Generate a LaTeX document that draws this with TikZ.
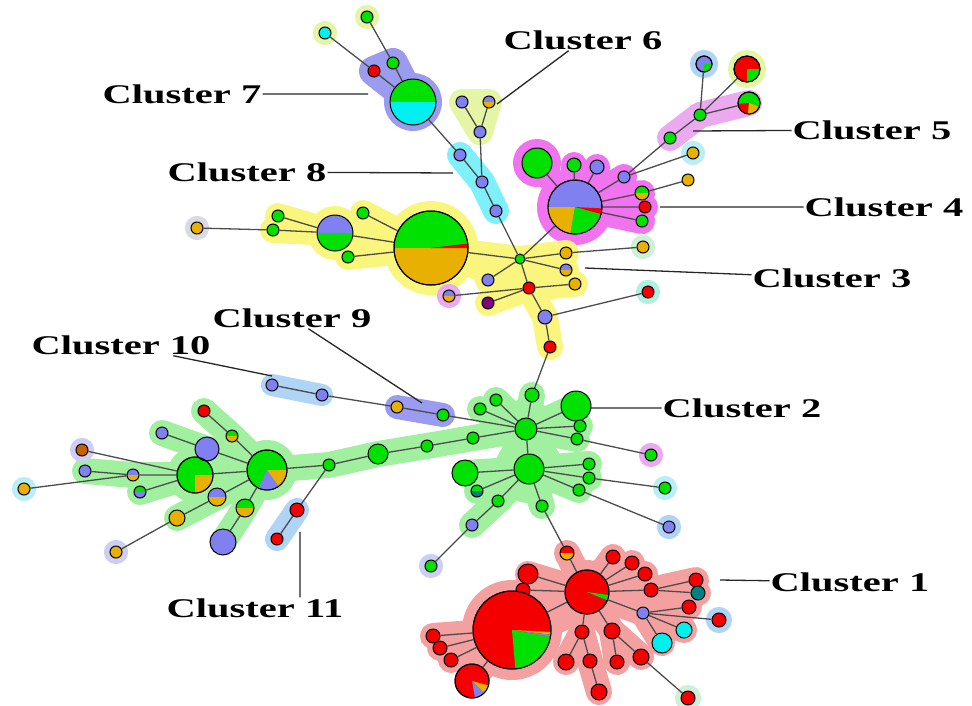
\documentclass[tikz,border=0pt]{standalone}
\usepackage{fontspec}
\setmainfont{Liberation Serif}
\usetikzlibrary{backgrounds}

\definecolor{gr}{RGB}{0,225,0}
\definecolor{rd}{RGB}{245,0,0}
\definecolor{bl}{RGB}{128,128,240}
\definecolor{og}{RGB}{232,176,0}
\definecolor{cy}{RGB}{0,240,240}
\definecolor{tl}{RGB}{0,128,128}
\definecolor{pu}{RGB}{128,0,128}
\definecolor{br}{RGB}{200,96,0}
\definecolor{hyel}{RGB}{250,245,125}
\definecolor{hgrn}{RGB}{160,240,160}
\definecolor{hred}{RGB}{245,160,160}
\definecolor{hmag}{RGB}{240,115,240}
\definecolor{hpnk}{RGB}{235,170,240}
\definecolor{hvio}{RGB}{155,155,240}
\definecolor{hcyn}{RGB}{125,240,250}
\definecolor{hlim}{RGB}{228,245,165}
\definecolor{hsky}{RGB}{175,212,245}
\definecolor{hgry}{RGB}{218,218,228}
\definecolor{hlgr}{RGB}{205,240,215}
\definecolor{hmnt}{RGB}{175,240,225}
\definecolor{hlav}{RGB}{205,205,245}
\definecolor{hcyl}{RGB}{185,238,248}

\tikzset{
    nd/.style={circle, draw, line width=1pt, inner sep=0pt, minimum size=12pt, fill=#1},
    nd/.default=gr,
    sz/.style={minimum size=#1pt},
    glow/.style={preaction={draw=#1, line width=12pt}},
    duo/.style 2 args={path picture={
        \fill[#1] (path picture bounding box.north west) rectangle (path picture bounding box.east);
        \fill[#2] (path picture bounding box.west) rectangle (path picture bounding box.south east);}},
    halo/.style={draw=#1, line width=26pt, line cap=round, line join=round},
    link/.style={draw=black!70, line width=1.3pt},
    lead/.style={draw=black!85, line width=1.3pt},
    lbl/.style={inner sep=1pt, font=\fontsize{27}{27}\selectfont\bfseries},
}
\newcommand\slc[5]{\fill[#5] (#1.center) -- ++(#3:#2) arc[start angle=#3, end angle=#4, radius=#2] -- cycle;}
\newcommand\rim[2]{\draw[line width=1pt] (#1.center) circle[radius=#2];}

\begin{document}
\begin{tikzpicture}[x=1pt, y=-1pt]
    \useasboundingbox (0,0) rectangle (972,705);

    \node[nd=cy, glow=hlim] (t1) at (325,33) {};
    \node[nd, glow=hlim] (t2) at (367,17) {};
    \node[nd=rd] (c7r) at (374,71) {};
    \node[nd] (c7g) at (393,63) {};
    \node[nd, sz=46, duo={gr}{cy}] (c7p) at (413,102) {};
    \node[nd=bl] (c6a) at (462,102) {};
    \node[nd, duo={bl}{og}] (c6b) at (489,102) {};
    \node[nd=bl] (c6c) at (480,132) {};
    \node[nd=bl] (c8a) at (460,155) {};
    \node[nd=bl] (c8b) at (482,182) {};
    \node[nd=bl] (c8c) at (496,211) {};

    \node[nd=og, glow=hgry] (c3o) at (197,228) {};
    \node[nd] (c3g1) at (278,216) {};
    \node[nd] (c3g2) at (273,230) {};
    \node[nd, sz=36, duo={bl}{gr}] (c3p) at (335,233) {};
    \node[nd] (c3g3) at (363,213) {};
    \node[nd] (c3g4) at (348,257) {};
    \node[nd, sz=74, duo={gr}{og}] (c3big) at (431,248) {};
    \node[nd, sz=10] (c3h) at (520,259) {};
    \node[nd=og] (c3o1) at (566,253) {};
    \node[nd=og, glow=hlgr] (c3o2) at (643,247) {};
    \node[nd, duo={bl}{og}] (c3s) at (566,270) {};
    \node[nd=bl] (c3b1) at (488,280) {};
    \node[nd=rd] (c3r) at (529,288) {};
    \node[nd=og] (c3o3) at (575,284) {};
    \node[nd, duo={bl}{og}, glow=hpnk] (c3s2) at (449,296) {};
    \node[nd=pu] (c3v) at (488,303) {};
    \node[nd=bl, sz=14] (c3b2) at (545,317) {};
    \node[nd=rd, glow=hmnt] (c3r2) at (648,292) {};
    \node[nd=rd] (c3r3) at (550,347) {};

    \node[nd=bl, sz=54] (c4p) at (575,207) {};
    \node[nd, sz=30] (c4g) at (537,163) {};
    \node[nd, sz=14] (c4g2) at (574,165) {};
    \node[nd=bl, sz=14] (c4b) at (597,167) {};
    \node[nd=bl] (c4b2) at (624,177) {};
    \node[nd, sz=14, duo={gr}{og}] (c4s) at (642,193) {};
    \node[nd=rd] (c4r) at (645,207) {};
    \node[nd] (c4g3) at (642,221) {};
    \node[nd=og] (c4o) at (688,180) {};
    \node[nd=og, glow=hcyl] (c4o2) at (693,153) {};
    \node[nd] (c5g1) at (670,138) {};
    \node[nd] (c5g2) at (700,115) {};
    \node[nd=bl, sz=16, glow=hsky] (c5a) at (704,64) {};
    \node[nd=rd, sz=26, glow=hlim] (c5b) at (747,69) {};
    \node[nd, sz=22] (c5c) at (749,103) {};

    \node[nd, sz=22] (h2) at (526,429) {};
    \node[nd, sz=14] (c2a) at (532,395) {};
    \node[nd] (c2b) at (496,400) {};
    \node[nd] (c2c) at (480,409) {};
    \node[nd, sz=30] (c2d) at (576,406) {};
    \node[nd] (c2e) at (580,426) {};
    \node[nd] (c2f) at (577,439) {};
    \node[nd, glow=hpnk] (c2l1) at (651,455) {};
    \node[nd] (c2g) at (473,438) {};
    \node[nd] (c2h) at (427,446) {};
    \node[nd, sz=20] (c2i) at (378,454) {};
    \node[nd] (c2j) at (329,465) {};
    \node[nd, sz=30] (h3) at (529,469) {};
    \node[nd, sz=26] (c2m) at (465,473) {};
    \node[nd, duo={gr}{tl}] (c2n) at (477,491) {};
    \node[nd] (c2o) at (498,501) {};
    \node[nd=bl] (c2q) at (472,525) {};
    \node[nd, glow=hlav] (c2l2) at (431,566) {};
    \node[nd] (c2r) at (542,506) {};
    \node[nd] (c2s) at (589,464) {};
    \node[nd] (c2t) at (589,478) {};
    \node[nd] (c2u) at (579,490) {};
    \node[nd, glow=hcyl] (c2l3) at (665,488) {};
    \node[nd=bl, glow=hsky] (c2l4) at (669,527) {};

    \node[nd, sz=40] (w1) at (267,470) {};
    \node[nd, sz=36] (w2) at (195,475) {};
    \node[nd=rd] (c2r1) at (204,411) {};
    \node[nd, duo={gr}{og}] (c2v) at (232,436) {};
    \node[nd=bl, sz=24] (c2w) at (207,449) {};
    \node[nd=bl] (c2x) at (162,433) {};
    \node[nd=br, glow=hlav] (c2y) at (82,450) {};
    \node[nd=bl] (c2z) at (85,471) {};
    \node[nd, duo={bl}{og}] (c2aa) at (133,475) {};
    \node[nd=og, glow=hcyl] (c2ab) at (24,489) {};
    \node[nd, duo={gr}{bl}] (c2ac) at (140,492) {};
    \node[nd, sz=18, duo={bl}{og}] (c2ad) at (217,497) {};
    \node[nd, sz=18, duo={gr}{og}] (c2ae) at (245,508) {};
    \node[nd=og, sz=16] (c2af) at (177,518) {};
    \node[nd=og, glow=hlav] (c2ag) at (116,552) {};
    \node[nd=bl, sz=26] (c2ah) at (223,542) {};

    \node[nd=rd, sz=14] (c11a) at (297,510) {};
    \node[nd=rd] (c11b) at (277,539) {};
    \node[nd=bl] (c10a) at (272,385) {};
    \node[nd=bl] (c10b) at (322,395) {};
    \node[nd=og] (c9a) at (397,407) {};
    \node[nd] (c9b) at (443,415) {};

    \node[nd, duo={rd}{og}, sz=14] (c1top) at (567,553) {};
    \node[nd=rd, sz=44] (h1) at (587,592) {};
    \node[nd=rd, sz=14] (c1a) at (613,557) {};
    \node[nd=rd, sz=14] (c1b) at (632,563) {};
    \node[nd=rd, sz=14] (c1c) at (645,574) {};
    \node[nd=rd, sz=14] (c1d) at (651,590) {};
    \node[nd=rd, sz=14] (c1e) at (696,580) {};
    \node[nd=tl, sz=14] (c1f) at (698,593) {};
    \node[nd=bl] (c1g) at (643,613) {};
    \node[nd=rd, sz=14] (c1h) at (689,607) {};
    \node[nd=rd, sz=14, glow=hsky] (c1i) at (719,620) {};
    \node[nd=cy, sz=16] (c1j) at (684,630) {};
    \node[nd=cy, sz=20] (c1k) at (662,643) {};
    \node[nd=rd, sz=20] (c1l) at (528,574) {};
    \node[nd=rd, sz=14] (c1m) at (523,590) {};
    \node[nd=rd, sz=78] (bp) at (512,630) {};
    \node[nd=rd, sz=14] (c1n) at (433,636) {};
    \node[nd=rd, sz=14] (c1o) at (440,648) {};
    \node[nd=rd, sz=14] (c1p) at (451,660) {};
    \node[nd=rd, sz=34] (sp) at (472,681) {};
    \node[nd=rd, sz=14] (c1q) at (582,632) {};
    \node[nd=rd, sz=16] (c1r) at (566,662) {};
    \node[nd=rd, sz=14] (c1s) at (590,661) {};
    \node[nd=rd, sz=16] (c1t) at (599,692) {};
    \node[nd=rd, sz=16] (c1u) at (612,631) {};
    \node[nd=rd, sz=14] (c1v) at (617,662) {};
    \node[nd=rd, sz=16] (c1w) at (641,657) {};
    \node[nd=rd, sz=14, glow=hlgr] (c1x) at (688,698) {};

    \slc{c3big}{37}{-7}{0}{rd}
    \rim{c3big}{37}
    \slc{c4p}{27}{100}{180}{og}
    \slc{c4p}{27}{15}{100}{gr}
    \slc{c4p}{27}{3}{15}{rd}
    \rim{c4p}{27}
    \slc{c5a}{8}{0}{90}{gr}
    \rim{c5a}{8}
    \slc{c5b}{13}{0}{90}{gr}
    \rim{c5b}{13}
    \slc{c5c}{11}{95}{175}{rd}
    \slc{c5c}{11}{20}{95}{og}
    \rim{c5c}{11}
    \slc{w1}{20}{0}{55}{og}
    \slc{w1}{20}{55}{115}{bl}
    \rim{w1}{20}
    \slc{w2}{18}{0}{90}{og}
    \rim{w2}{18}
    \slc{h1}{22}{8}{22}{gr}
    \rim{h1}{22}
    \slc{bp}{39}{3}{7}{og}
    \slc{bp}{39}{7}{10}{bl}
    \slc{bp}{39}{10}{85}{gr}
    \rim{bp}{39}
    \slc{sp}{17}{15}{45}{og}
    \slc{sp}{17}{45}{80}{bl}
    \rim{sp}{17}

    \draw[link] (t1) -- (c7r) -- (c7p) (t2) -- (c7g) -- (c7p)
    (c7p) -- (c8a) -- (c8b) -- (c8c) -- (c3h)
    (c6a) -- (c6c) (c6b) -- (c6c) -- (c8b);
    \draw[link] (c3o) -- (c3g2) -- (c3p) -- (c3big) (c3g1) -- (c3p)
    (c3g3) -- (c3big) (c3g4) -- (c3big) (c3big) -- (c3h) -- (c4p)
    (c3h) -- (c3o1) -- (c3o2) (c3h) -- (c3s) (c3h) -- (c3b1)
    (c3h) -- (c3r) -- (c3o3) (c3r) -- (c3s2) (c3r) -- (c3v)
    (c3r) -- (c3b2) -- (c3r3) -- (c2a) (c3b2) -- (c3r2);
    \draw[link] (c4p) -- (c4g) (c4p) -- (c4g2) (c4p) -- (c4b) (c4p) -- (c4b2)
    (c4p) -- (c4s) -- (c4o) (c4p) -- (c4r) (c4p) -- (c4g3)
    (c4b2) -- (c5g1) -- (c5g2) -- (c5a) (c5g2) -- (c5b) (c5g2) -- (c5c)
    (c4b2) -- (c4o2);
    \draw[link] (c2a) -- (h2) -- (c2b) (h2) -- (c2c) (h2) -- (c2d) (h2) -- (c2e)
    (h2) -- (c2f) -- (c2l1) (h2) -- (c2g) -- (c2h) -- (c2i) -- (c2j) -- (w1)
    (h2) -- (c9b) -- (c9a) -- (c10b) -- (c10a) (h2) -- (h3)
    (h3) -- (c2m) (h3) -- (c2n) (h3) -- (c2o) -- (c2q) -- (c2l2)
    (h3) -- (c2r) -- (c1top) (h3) -- (c2s) (h3) -- (c2t) -- (c2l3) (h3) -- (c2u) -- (c2l4)
    (c2j) -- (c11a) -- (c11b);
    \draw[link] (w1) -- (c2v) -- (c2r1) (w1) -- (c2w) -- (c2x) (w1) -- (w2)
    (w1) -- (c2ad) -- (c2af) -- (c2ag) (w1) -- (c2ae) -- (c2ah)
    (w2) -- (c2y) (w2) -- (c2aa) -- (c2z) (c2aa) -- (c2ab) (w2) -- (c2ac);
    \draw[link] (c1top) -- (h1) -- (c1a) (h1) -- (c1b) (h1) -- (c1c)
    (h1) -- (c1d) -- (c1e) (c1d) -- (c1f)
    (h1) -- (c1g) -- (c1h) (c1g) -- (c1i) (c1g) -- (c1j) (c1g) -- (c1k)
    (h1) -- (c1l) (h1) -- (c1m) (h1) -- (bp) -- (c1n) (bp) -- (c1o) (bp) -- (c1p) (bp) -- (sp)
    (h1) -- (c1q) -- (c1r) (c1q) -- (c1s) -- (c1t)
    (h1) -- (c1u) -- (c1v) (c1u) -- (c1w) -- (c1x);

    \node[lbl] (L7) at (182,94) {\scalebox{1.5}[1]{Cluster 7}};
    \node[lbl] (L6) at (583,40) {\scalebox{1.5}[1]{Cluster 6}};
    \node[lbl] (L5) at (872,130) {\scalebox{1.5}[1]{Cluster 5}};
    \node[lbl] (L8) at (247,172) {\scalebox{1.5}[1]{Cluster 8}};
    \node[lbl] (L4) at (884,207) {\scalebox{1.5}[1]{Cluster 4}};
    \node[lbl] (L3) at (832,278) {\scalebox{1.5}[1]{Cluster 3}};
    \node[lbl] (L9) at (292,318) {\scalebox{1.5}[1]{Cluster 9}};
    \node[lbl] (L10) at (121,345) {\scalebox{1.5}[1]{Cluster 10}};
    \node[lbl] (L2) at (742,408) {\scalebox{1.5}[1]{Cluster 2}};
    \node[lbl] (L1) at (850,582) {\scalebox{1.5}[1]{Cluster 1}};
    \node[lbl] (L11) at (255,608) {\scalebox{1.5}[1]{Cluster 11}};

    \coordinate (e7) at (368,94);
    \coordinate (e6) at (497,104);
    \coordinate (e5) at (693,131);
    \coordinate (e8) at (453,173);
    \coordinate (e4) at (660,207);
    \coordinate (e3) at (585,268);
    \coordinate (e9) at (422,403);
    \coordinate (e10) at (272,376);
    \coordinate (e2) at (590,408);
    \coordinate (e1) at (720,580);
    \coordinate (e11) at (300,532);
    \draw[lead] (L7) -- (e7) (L6) -- (e6) (L5) -- (e5) (L8) -- (e8) (L4) -- (e4)
    (L3) -- (e3) (L9) -- (e9) (L10) -- (e10) (L2) -- (e2) (L1) -- (e1)
    (e11) -- (e11 |- L11.north);

    \begin{scope}[on background layer]
        \fill[hvio] (c7p.center) circle[radius=29];
        \draw[halo=hvio, line width=30pt] (c7r.center) -- (c7p.center) -- (c7g.center) -- cycle;
        \draw[halo=hlim] (c6a.center) -- (c6c.center) -- (c6b.center) -- cycle;
        \draw[halo=hcyn] (c8a.center) -- (c8b.center) -- (c8c.center);
        \draw[halo=hpnk] (c5g1.center) -- (c5g2.center) -- (c5c.center);
        \fill[hmag] (c4p.center) circle[radius=38] (c4g.center) circle[radius=24];
        \draw[halo=hmag] (c4g.center) -- (c4p.center) -- (c4g2.center) (c4p.center) -- (c4b.center)
        (c4p.center) -- (c4b2.center) (c4p.center) -- (c4s.center) (c4p.center) -- (c4r.center)
        (c4p.center) -- (c4g3.center);
        \fill[hyel] (c3big.center) circle[radius=47] (c3p.center) circle[radius=27];
        \draw[halo=hyel] (c3big.center) -- (c3p.center) -- (c3g2.center) (c3p.center) -- (c3g1.center)
        (c3big.center) -- (c3g3.center) (c3big.center) -- (c3g4.center) (c3big.center) -- (c3h.center)
        (c3big.center) -- (c3r.center) (c3h.center) -- (c3o1.center) (c3h.center) -- (c3s.center)
        (c3h.center) -- (c3b1.center) (c3h.center) -- (c3r.center) -- (c3o3.center)
        (c3r.center) -- (c3v.center) (c3r.center) -- (c3b2.center) -- (c3r3.center);
        \fill[hgrn] (w1.center) circle[radius=30] (w2.center) circle[radius=28]
        (h2.center) circle[radius=30] (h3.center) circle[radius=34];
        \draw[halo=hgrn] (c2a.center) -- (h2.center) -- (c2b.center) (h2.center) -- (c2c.center)
        (h2.center) -- (c2d.center) (h2.center) -- (c2e.center) (h2.center) -- (c2f.center)
        (h2.center) -- (c2g.center) -- (c2h.center) -- (c2i.center) -- (c2j.center) -- (w1.center)
        (h2.center) -- (h3.center) -- (c2m.center) (h3.center) -- (c2n.center)
        (h3.center) -- (c2o.center) -- (c2q.center) (h3.center) -- (c2r.center)
        (h3.center) -- (c2s.center) (h3.center) -- (c2t.center) (h3.center) -- (c2u.center)
        (w1.center) -- (c2v.center) -- (c2r1.center) (w1.center) -- (c2w.center) -- (c2x.center)
        (w1.center) -- (w2.center) (w1.center) -- (c2ad.center) -- (c2af.center)
        (w1.center) -- (c2ae.center) -- (c2ah.center)
        (w2.center) -- (c2aa.center) -- (c2z.center) (w2.center) -- (c2ac.center);
        \draw[halo=hvio, line width=24pt] (c9a.center) -- (c9b.center);
        \draw[halo=hsky, line width=22pt] (c10a.center) -- (c10b.center);
        \draw[halo=hsky, line width=24pt] (c11a.center) -- (c11b.center);
        \fill[hred] (bp.center) circle[radius=50] (h1.center) circle[radius=32];
        \draw[halo=hred, line width=50pt] (bp.center) -- (h1.center);
        \draw[halo=hred] (c1top.center) -- (h1.center) -- (c1a.center) (h1.center) -- (c1b.center)
        (h1.center) -- (c1c.center) (h1.center) -- (c1d.center) -- (c1e.center) (c1d.center) -- (c1f.center)
        (h1.center) -- (c1g.center) -- (c1h.center) (c1g.center) -- (c1j.center) (c1g.center) -- (c1k.center)
        (h1.center) -- (c1l.center) (h1.center) -- (c1m.center) (bp.center) -- (c1n.center)
        (bp.center) -- (c1o.center) (bp.center) -- (c1p.center) (bp.center) -- (sp.center)
        (h1.center) -- (c1q.center) -- (c1r.center) (c1q.center) -- (c1s.center) -- (c1t.center)
        (h1.center) -- (c1u.center) -- (c1v.center) (c1u.center) -- (c1w.center);
    \end{scope}
\end{tikzpicture}
\end{document}
